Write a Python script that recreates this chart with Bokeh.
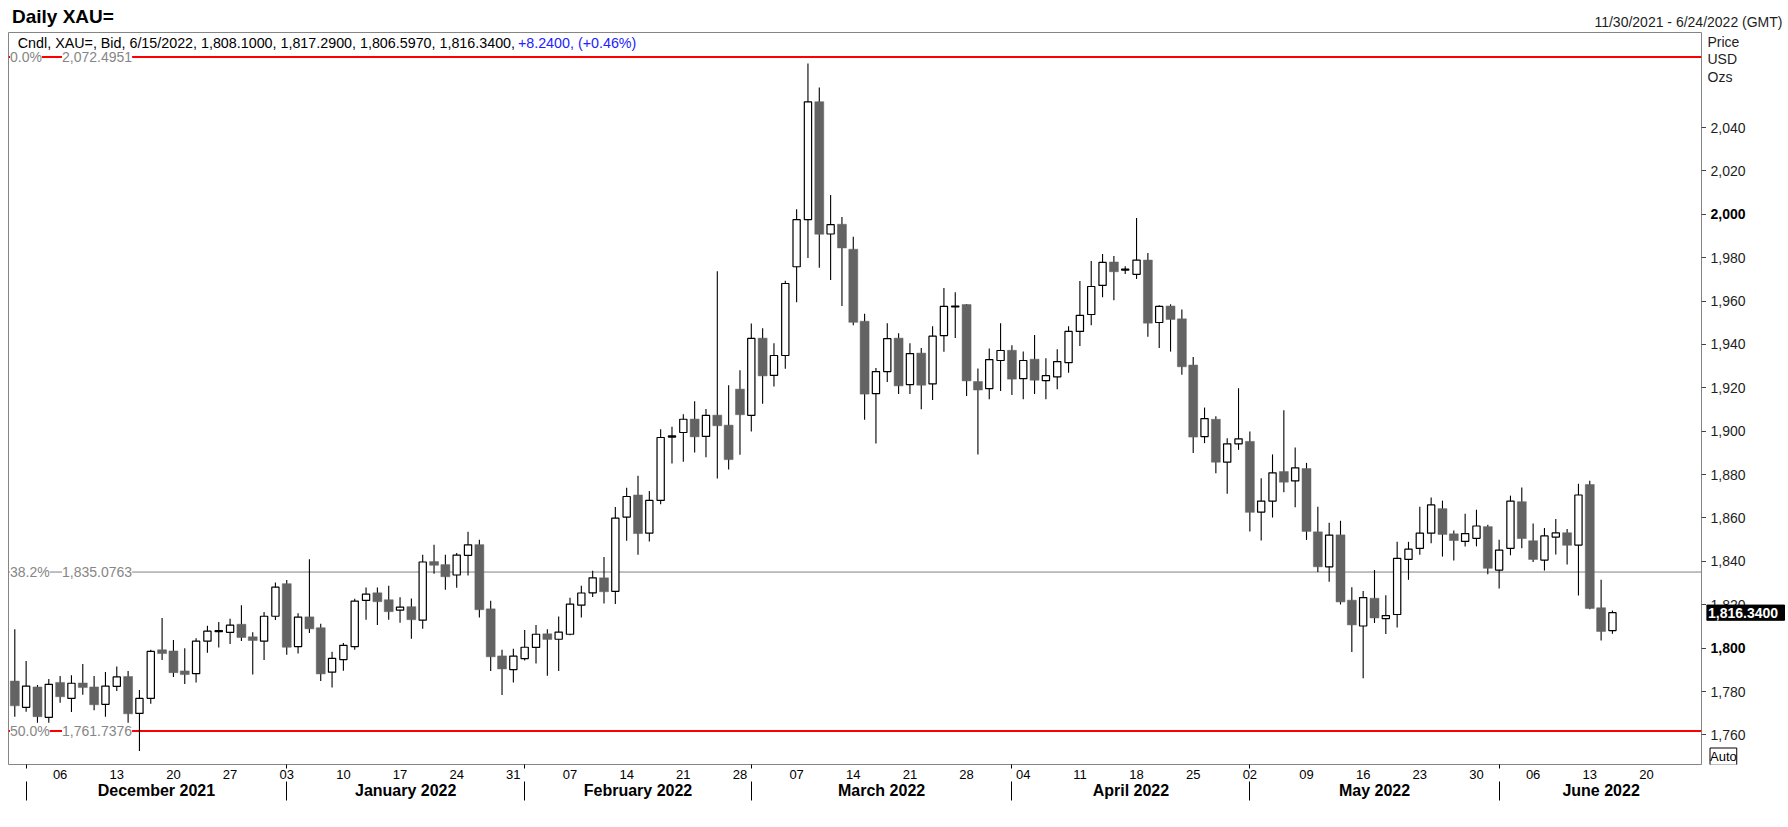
import pandas as pd
from bokeh.plotting import figure
from bokeh.layouts import column, row
from bokeh.models import (Range1d, LinearAxis, FixedTicker, Span, Label, ColumnDataSource)
from bokeh.core.properties import value
from bokeh.embed import file_html
from bokeh.resources import INLINE

# ---------------- data ----------------
START_DATE = "2021-11-30"
END_DATE = "2022-06-24"

OPEN = [1784.8, 1772.7, 1782.1, 1768.1, 1784.2, 1776.8, 1783.9, 1782.1, 1774.1, 1782.4,
        1786.9, 1769.9, 1776.8, 1799.2, 1798.7, 1789.5, 1788.2, 1803.2, 1807.6, 1807.3,
        1811.0, 1805.2, 1803.2, 1814.7, 1829.7, 1800.7, 1814.4, 1809.4, 1788.9, 1794.7,
        1800.7, 1822.0, 1825.5, 1822.3, 1817.5, 1819.1, 1812.9, 1839.9, 1838.5, 1833.7,
        1842.8, 1847.7, 1818.1, 1796.4, 1790.1, 1795.2, 1800.3, 1806.6, 1804.1, 1806.4,
        1819.8, 1825.5, 1832.4, 1826.2, 1860.4, 1870.6, 1853.0, 1868.1, 1897.3, 1899.4,
        1905.6, 1897.6, 1907.4, 1902.8, 1919.4, 1907.3, 1942.9, 1925.7, 1934.9, 1975.8,
        1997.5, 2051.9, 1990.9, 1995.4, 1983.9, 1950.7, 1917.3, 1927.5, 1942.9, 1921.5,
        1936.0, 1921.8, 1944.1, 1957.3, 1958.4, 1922.9, 1919.6, 1932.6, 1937.3, 1924.2,
        1933.2, 1923.3, 1925.0, 1931.6, 1946.0, 1953.8, 1967.2, 1978.0, 1974.3, 1972.3,
        1978.9, 1950.1, 1957.7, 1951.8, 1930.5, 1897.5, 1905.5, 1885.7, 1894.2, 1895.3,
        1862.7, 1867.8, 1881.4, 1877.1, 1882.8, 1853.6, 1837.5, 1852.2, 1822.1, 1810.2,
        1823.0, 1813.6, 1815.5, 1840.9, 1846.0, 1853.0, 1864.3, 1852.7, 1849.2, 1850.6,
        1856.0, 1836.0, 1846.0, 1867.5, 1849.5, 1840.6, 1851.2, 1853.2, 1847.5, 1875.4,
        1818.6, 1808.1]

HIGH = [1808.7, 1794.1, 1783.0, 1785.8, 1787.2, 1787.5, 1792.7, 1787.2, 1789.0, 1791.5,
        1789.5, 1780.7, 1799.2, 1813.9, 1803.8, 1799.9, 1804.6, 1810.3, 1812.0, 1813.5,
        1819.8, 1807.3, 1816.7, 1830.3, 1831.4, 1816.1, 1841.0, 1811.2, 1798.3, 1802.4,
        1822.8, 1828.0, 1828.0, 1828.8, 1823.4, 1822.9, 1843.1, 1847.7, 1843.1, 1843.9,
        1853.7, 1850.0, 1821.8, 1799.2, 1799.7, 1808.4, 1810.7, 1808.7, 1814.6, 1823.2,
        1828.8, 1835.7, 1842.0, 1865.0, 1873.9, 1879.5, 1872.4, 1900.9, 1902.0, 1907.8,
        1913.8, 1910.2, 1973.7, 1921.2, 1928.1, 1949.7, 1947.5, 1940.6, 1969.4, 2002.3,
        2069.5, 2058.4, 2008.9, 1998.7, 1989.6, 1954.1, 1929.1, 1949.8, 1945.2, 1940.6,
        1938.3, 1948.4, 1966.0, 1964.0, 1958.6, 1928.9, 1938.1, 1949.8, 1939.6, 1936.7,
        1944.3, 1933.6, 1937.8, 1948.4, 1969.2, 1978.5, 1981.7, 1980.8, 1976.0, 1998.3,
        1982.2, 1958.1, 1958.5, 1956.1, 1934.2, 1910.9, 1906.9, 1896.7, 1919.8, 1899.9,
        1878.3, 1889.3, 1909.7, 1892.5, 1885.4, 1865.2, 1857.8, 1858.7, 1828.1, 1826.3,
        1836.0, 1824.4, 1849.0, 1849.0, 1865.2, 1869.4, 1868.0, 1854.2, 1862.0, 1863.8,
        1856.9, 1850.0, 1870.3, 1874.0, 1857.4, 1855.4, 1859.5, 1854.9, 1875.8, 1877.2,
        1831.5, 1817.29]

LOW = [1768.4, 1770.7, 1765.6, 1765.6, 1774.8, 1770.5, 1778.5, 1771.4, 1768.4, 1780.2,
       1765.6, 1752.6, 1774.4, 1794.5, 1786.7, 1783.5, 1784.1, 1797.9, 1800.3, 1801.9,
       1803.3, 1787.8, 1794.5, 1813.0, 1796.9, 1797.5, 1807.0, 1784.9, 1781.8, 1789.6,
       1799.2, 1813.1, 1810.7, 1813.1, 1811.7, 1804.3, 1808.9, 1834.3, 1826.9, 1827.8,
       1833.5, 1814.1, 1789.5, 1778.4, 1784.1, 1794.3, 1792.9, 1787.3, 1789.5, 1805.9,
       1814.1, 1823.6, 1820.6, 1820.3, 1849.5, 1843.1, 1849.2, 1866.3, 1885.1, 1885.9,
       1890.2, 1888.0, 1878.2, 1882.3, 1889.2, 1899.9, 1912.7, 1920.6, 1928.8, 1959.5,
       1979.9, 1975.3, 1969.7, 1957.7, 1948.9, 1905.3, 1894.3, 1922.7, 1917.2, 1917.2,
       1910.1, 1914.4, 1936.6, 1943.0, 1916.2, 1889.3, 1914.7, 1918.5, 1916.7, 1914.7,
       1917.2, 1914.7, 1919.3, 1926.9, 1939.3, 1948.9, 1961.8, 1960.4, 1972.5, 1970.2,
       1943.5, 1938.4, 1936.7, 1926.0, 1889.9, 1894.5, 1880.6, 1871.2, 1891.4, 1853.8,
       1849.6, 1860.2, 1871.8, 1864.9, 1849.9, 1835.1, 1830.6, 1820.1, 1798.2, 1786.1,
       1811.6, 1806.5, 1809.5, 1831.5, 1843.1, 1848.4, 1842.2, 1840.4, 1846.9, 1846.9,
       1834.0, 1827.5, 1842.8, 1846.0, 1839.7, 1835.8, 1843.2, 1838.6, 1824.3, 1817.9,
       1803.5, 1806.597]

CLOSE = [1773.4, 1782.5, 1768.4, 1783.3, 1777.6, 1783.8, 1781.8, 1773.9, 1782.5, 1786.7,
         1769.7, 1776.8, 1798.5, 1797.5, 1788.7, 1787.8, 1803.2, 1807.8, 1808.1, 1810.6,
         1804.9, 1803.5, 1814.7, 1828.1, 1800.4, 1814.3, 1808.9, 1788.1, 1795.3, 1801.3,
         1821.7, 1824.9, 1821.4, 1816.8, 1818.9, 1813.1, 1839.7, 1838.2, 1832.9, 1842.9,
         1847.6, 1817.7, 1796.0, 1790.4, 1796.3, 1800.4, 1806.4, 1804.0, 1807.4, 1820.3,
         1825.4, 1832.4, 1826.0, 1859.9, 1869.9, 1852.8, 1868.1, 1897.1, 1897.8, 1905.5,
         1897.4, 1907.3, 1902.5, 1886.9, 1907.6, 1942.8, 1925.5, 1934.9, 1968.1, 1997.5,
         2051.8, 1990.8, 1995.2, 1984.5, 1950.2, 1917.1, 1927.5, 1942.7, 1920.9, 1935.8,
         1921.2, 1943.8, 1957.5, 1957.7, 1923.2, 1919.0, 1933.0, 1937.2, 1924.0, 1932.6,
         1923.5, 1925.6, 1932.1, 1946.0, 1953.4, 1966.7, 1977.8, 1973.5, 1974.7, 1978.9,
         1949.8, 1957.5, 1951.5, 1929.7, 1897.3, 1905.8, 1885.7, 1894.2, 1896.5, 1862.6,
         1867.8, 1880.8, 1876.5, 1883.1, 1853.8, 1837.5, 1852.1, 1821.3, 1810.7, 1823.3,
         1813.9, 1815.0, 1841.4, 1845.6, 1853.0, 1866.0, 1852.4, 1849.6, 1852.8, 1856.3,
         1836.8, 1845.2, 1867.8, 1850.5, 1840.9, 1851.7, 1853.1, 1847.4, 1870.6, 1818.3,
         1807.7, 1816.34]

FIB_LEVELS = [2072.4951, 1835.0763, 1761.7376]
FIB_PCTS = ["0.0%", "38.2%", "50.0%"]
FIB_TEXTS = ["2,072.4951", "1,835.0763", "1,761.7376"]

Y_TICKS = [1760, 1780, 1800, 1820, 1840, 1860, 1880, 1900, 1920, 1940, 1960, 1980, 2000, 2020, 2040]
BOLD_TICKS = [1800, 2000]
Y_LIMITS = [1746.35, 2083.8]

TITLE = "Daily XAU="
DATE_SPAN = "11/30/2021 - 6/24/2022 (GMT)"
LEGEND_MAIN = "Cndl, XAU=, Bid, 6/15/2022, 1,808.1000, 1,817.2900, 1,806.5970, 1,816.3400, "
LEGEND_CHANGE = "+8.2400, (+0.46%)"
UNIT_LINES = ["Price", "USD", "Ozs"]
LAST_PRICE = 1816.34
LAST_PRICE_TEXT = "1,816.3400"
SCALE_MODE = "Auto"

# ---------------- derived dates / ticks ----------------
dates = pd.bdate_range(START_DATE, END_DATE)
n_all = len(dates)
idx = list(range(len(CLOSE)))

mondays = [i for i, d in enumerate(dates) if d.weekday() == 0]
monday_labels = {i: dates[i].strftime("%d") for i in mondays}

month_keys = [(d.year, d.month) for d in dates]
month_first = {}
for i, k in enumerate(month_keys):
    month_first.setdefault(k, i)
months = [k for k in month_first if k != month_keys[0]]
month_starts = [month_first[k] for k in months]
month_ends = month_starts[1:] + [n_all]
month_centers = [(a + b) / 2 for a, b in zip(month_starts, month_ends)]
month_labels = {c: dates[s].strftime("%B %Y") for c, s in zip(month_centers, month_starts)}

# ---------------- geometry (page pixels) ----------------
PAGE_W, PAGE_H = 1788, 827
FR_T = 32             # chart frame top (= height of title strip)
FR_L, FR_R, FR_B = 8, 1701, 764
MAIN_W = FR_R + 5
MAIN_H = PAGE_H - FR_T
BOTTOM = PAGE_H - FR_B
FW, FH = FR_R - FR_L, FR_B - FR_T
X0, X1 = -0.556, 148.86
Y0, Y1 = Y_LIMITS
FONT = "Liberation Sans"


def dx(px):  # page x -> bar index
    return X0 + (px - FR_L) * (X1 - X0) / FW


def dy(py):  # page y -> price
    return Y1 - (py - FR_T) * (Y1 - Y0) / FH


def bare(fig):
    fig.grid.visible = False
    fig.background_fill_color = "white"
    fig.border_fill_color = "white"
    return fig


# ---------------- title strip ----------------
top = bare(figure(width=PAGE_W, height=FR_T, title=None, output_backend="svg", toolbar_location=None,
                  x_range=Range1d(0, PAGE_W), y_range=Range1d(FR_T, 0),
                  x_axis_location=None, y_axis_location=None,
                  min_border_left=0, min_border_right=0, min_border_top=0, min_border_bottom=0))
top.outline_line_color = None
top.add_layout(Label(x=11.5, y=16.4, text=TITLE, text_font=FONT, text_font_size="19px",
                     text_font_style="bold", text_color="black",
                     text_baseline="middle", text_align="left"))
top.add_layout(Label(x=1782, y=21.3, text=DATE_SPAN, text_font=FONT, text_font_size="14px",
                     text_color="#1e1e1e", text_baseline="middle", text_align="right"))

# ---------------- main chart ----------------
p = bare(figure(width=MAIN_W, height=MAIN_H, title=None, output_backend="svg", toolbar_location=None,
                x_range=Range1d(X0, X1), y_range=Range1d(Y0, Y1),
                x_axis_location=None, y_axis_location=None,
                min_border_left=FR_L, min_border_right=5, min_border_top=0,
                min_border_bottom=BOTTOM))
p.outline_line_color = "#858585"
p.outline_line_width = 1

yax = LinearAxis(ticker=FixedTicker(ticks=Y_TICKS),
                 major_label_overrides={t: "" for t in Y_TICKS},
                 major_tick_out=5, major_tick_in=0, minor_tick_line_color=None,
                 major_tick_line_color="#444444", major_label_standoff=0,
                 axis_line_color=None, major_label_text_font_size="1px")
p.add_layout(yax, "right")

xa = LinearAxis(ticker=FixedTicker(ticks=mondays, minor_ticks=month_starts),
                major_label_overrides=monday_labels,
                major_tick_line_color=None, major_tick_out=0, major_tick_in=0,
                minor_tick_in=0, minor_tick_out=4, minor_tick_line_color="black",
                axis_line_color=None, major_label_standoff=1,
                major_label_text_font=FONT, major_label_text_font_size="13px",
                major_label_text_color="black")
xb = LinearAxis(ticker=FixedTicker(ticks=month_centers, minor_ticks=month_starts),
                major_label_overrides=month_labels,
                major_tick_line_color=None, major_tick_out=0, major_tick_in=0,
                minor_tick_in=0, minor_tick_out=19, minor_tick_line_color="black",
                axis_line_color=None, major_label_standoff=-19,
                major_label_text_font=FONT, major_label_text_font_size="16px",
                major_label_text_font_style="bold", major_label_text_color="black")
p.add_layout(xa, "below")
p.add_layout(xb, "below")

fib_colors = ["red", "#808080", "red"]
fib_widths = [2, 1, 2]
for lvl, col, lw in zip(FIB_LEVELS, fib_colors, fib_widths):
    p.add_layout(Span(location=lvl, dimension="width", line_color=col, line_width=lw, level="underlay"))

up = [i for i in idx if CLOSE[i] >= OPEN[i]]
dn = [i for i in idx if CLOSE[i] < OPEN[i]]
src_all = ColumnDataSource(dict(x=idx, lo=LOW, hi=HIGH))
src_up = ColumnDataSource(dict(x=up, top=[CLOSE[i] for i in up], bot=[OPEN[i] for i in up]))
src_dn = ColumnDataSource(dict(x=dn, top=[OPEN[i] for i in dn], bot=[CLOSE[i] for i in dn]))

p.segment(x0="x", y0="lo", x1="x", y1="hi", source=src_all, line_color="black", line_width=1.1)
p.vbar(x="x", top="top", bottom="bot", width=0.64, source=src_up,
       fill_color="white", line_color="black", line_width=1.2)
p.vbar(x="x", top="top", bottom="bot", width=0.79, source=src_dn,
       fill_color="#636363", line_color="#636363", line_width=0.5)

for lvl, pct, txt in zip(FIB_LEVELS, FIB_PCTS, FIB_TEXTS):
    p.add_layout(Label(x=dx(9.5), y=lvl, text=pct, text_font=FONT, text_font_size="14px",
                       text_color="#868686", text_baseline="middle", text_align="left",
                       background_fill_color="white"))
    p.add_layout(Label(x=dx(61.5), y=lvl, text=txt, text_font=FONT, text_font_size="14px",
                       text_color="#868686", text_baseline="middle", text_align="left",
                       background_fill_color="white"))

p.add_layout(Label(x=dx(17.3), y=dy(42.2), text=LEGEND_MAIN, text_font=FONT, text_font_size="14.3px",
                   text_color="black", text_baseline="middle", text_align="left"))
p.add_layout(Label(x=dx(517.4), y=dy(42.2), text=LEGEND_CHANGE, text_font=FONT, text_font_size="14.3px",
                   text_color="#2222ff", text_baseline="middle", text_align="left"))

# ---------------- right gutter (price scale texts) ----------------
RW = PAGE_W - MAIN_W
rg = bare(figure(width=RW, height=MAIN_H, title=None, output_backend="svg", toolbar_location=None,
                 x_range=Range1d(0, RW), y_range=p.y_range,
                 x_axis_location=None, y_axis_location=None,
                 min_border_left=0, min_border_right=0, min_border_top=0, min_border_bottom=BOTTOM))
rg.outline_line_color = None

reg_ticks = [t for t in Y_TICKS if t not in BOLD_TICKS]
rg.text(x=[4] * len(reg_ticks), y=reg_ticks, text=[f"{t:,}" for t in reg_ticks],
        text_font=value(FONT), text_font_size="14px", text_color="#1e1e1e",
        text_baseline="middle", text_align="left")
rg.text(x=[4] * len(BOLD_TICKS), y=BOLD_TICKS, text=[f"{t:,}" for t in BOLD_TICKS],
        text_font=value(FONT), text_font_size="14px", text_font_style="bold", text_color="black",
        text_baseline="middle", text_align="left")

for k, t in enumerate(UNIT_LINES):
    rg.add_layout(Label(x=1, y=dy(41 + 17.7 * k), text=t, text_font=FONT, text_font_size="14px",
                        text_color="#1e1e1e", text_baseline="middle", text_align="left"))

half_box = 7.6 * (Y1 - Y0) / FH
rg.quad(left=[0], right=[78], top=[LAST_PRICE + half_box], bottom=[LAST_PRICE - half_box],
        fill_color="black", line_color="black")
rg.text(x=[1.5], y=[LAST_PRICE], text=[LAST_PRICE_TEXT], text_font=value(FONT), text_font_size="14px",
        text_font_style="bold", text_color="white", text_baseline="middle", text_align="left")

rg.add_layout(Label(x=3.5, y=dy(756), text=SCALE_MODE, text_font=FONT, text_font_size="13px",
                    text_color="black", border_line_color="black", border_line_width=1,
                    background_fill_color="white", text_baseline="middle", text_align="left",
                    padding=(0, 1)))

layout = column(top, row(p, rg))
open("out.html", "w").write(file_html(layout, INLINE))
